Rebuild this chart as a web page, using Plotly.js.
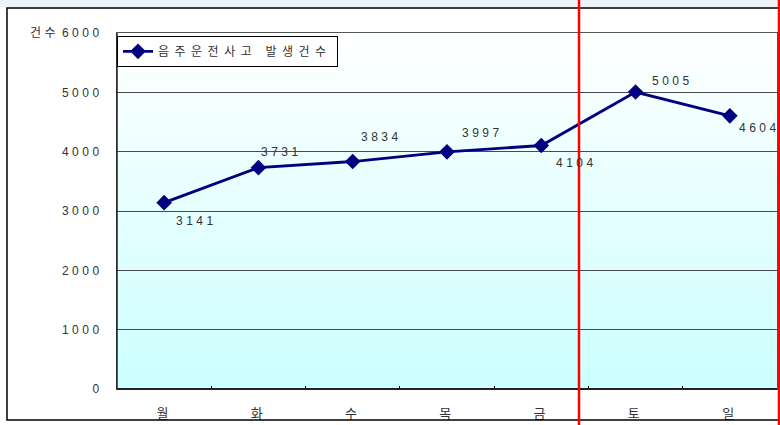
<!DOCTYPE html>
<html>
<head>
<meta charset="utf-8">
<script src="https://cdn.plot.ly/plotly-3.0.1.min.js"></script>
<style>
  html, body { margin: 0; padding: 0; background: #ffffff; }
  #chart { width: 780px; height: 425px; }
  svg text { letter-spacing: 3.5px; }
  svg text.legendtext { letter-spacing: 5.5px; }
</style>
</head>
<body>
<div id="chart"></div>
<script>
// 요일별 음주운전사고 발생건수
const days = ['월', '화', '수', '목', '금', '토', '일'];
const accidents = [3141, 3731, 3834, 3997, 4104, 5005, 4604];
const yTicks = [0, 1000, 2000, 3000, 4000, 5000, 6000];
const seriesName = '음주운전사고 발생건수';
const yTitle = '건수';

// label offsets (px) from each point
const labelShiftX = [32, 23, 29, 35, 35, 37, 30];
const labelShiftY = [-18, 16, 25, 19, -17, 11, -12];

const textColor = '#333333';
const numFont = { family: 'Liberation Sans, Arial, sans-serif', size: 12, color: textColor };
const korFont = { family: 'Noto Sans CJK KR, sans-serif', size: 12, color: textColor };
const dayFont = { family: 'Noto Sans CJK KR, sans-serif', size: 13, color: textColor };

// vertical white-to-cyan background of the plot area
const gradSvg =
  '<svg xmlns="http://www.w3.org/2000/svg" width="10" height="100" preserveAspectRatio="none">' +
  '<defs><linearGradient id="g" x1="0" y1="0" x2="0" y2="1">' +
  '<stop offset="0" stop-color="#ffffff"/><stop offset="1" stop-color="#ccffff"/>' +
  '</linearGradient></defs><rect width="10" height="100" fill="url(#g)"/></svg>';
const gradUri = 'data:image/svg+xml;base64,' + btoa(gradSvg);

const trace = {
  type: 'scatter',
  mode: 'lines+markers',
  x: days,
  y: accidents,
  name: seriesName,
  showlegend: true,
  line: { color: '#000080', width: 2.8 },
  marker: { symbol: 'diamond', size: 12, color: '#000080' },
  hoverinfo: 'skip'
};

const valueLabels = accidents.map((v, i) => ({
  x: days[i], y: v, xref: 'x', yref: 'y',
  text: String(v), showarrow: false,
  xshift: labelShiftX[i], yshift: labelShiftY[i],
  font: numFont
}));

const layout = {
  width: 780, height: 425,
  margin: { l: 117, r: 3, t: 33, b: 36 },
  paper_bgcolor: '#ffffff',
  plot_bgcolor: 'rgba(0,0,0,0)',
  showlegend: true,
  legend: {
    x: 0, y: 0.992, xanchor: 'left', yanchor: 'top',
    bgcolor: '#ffffff', bordercolor: '#000000', borderwidth: 1,
    font: korFont,
    tracegroupgap: 0
  },
  xaxis: {
    type: 'category',
    range: [-0.5, 6.5],
    tickson: 'boundaries',
    ticks: 'inside', ticklen: 3, tickcolor: '#000000',
    showgrid: false,
    showline: true, linecolor: '#555555', linewidth: 1, mirror: true,
    tickfont: dayFont,
    ticklabelstandoff: 12,
    fixedrange: true
  },
  yaxis: {
    range: [0, 6000],
    tickvals: yTicks,
    ticktext: yTicks.map(String),
    ticks: '', showgrid: true, gridcolor: '#4a4a4a', gridwidth: 1,
    zeroline: false,
    showline: true, linecolor: '#555555', linewidth: 1, mirror: true,
    tickfont: numFont,
    ticklabelstandoff: 11,
    fixedrange: true
  },
  images: [{
    source: gradUri, xref: 'paper', yref: 'paper',
    x: 0, y: 1, sizex: 1, sizey: 1, sizing: 'stretch',
    xanchor: 'left', yanchor: 'top', layer: 'below'
  }],
  shapes: [
    // thin strip above the frame
    { type: 'rect', xref: 'paper', yref: 'paper', x0: -0.2, x1: 1.1, y0: 1.072, y1: 1.2,
      line: { width: 0 }, fillcolor: '#eef3f7', layer: 'below' },
    // outer frame
    { type: 'rect', xref: 'paper', yref: 'paper', x0: -0.1667, x1: 1.02, y0: -0.087, y1: 1.070,
      line: { color: '#000000', width: 1.5 }, fillcolor: 'rgba(0,0,0,0)' },
    // bottom axis line
    { type: 'line', xref: 'paper', yref: 'paper', x0: 0, x1: 1, y0: 0, y1: 0,
      line: { color: '#222222', width: 2 } },
    // left axis line
    { type: 'line', xref: 'paper', yref: 'paper', x0: 0, x1: 0, y0: 0, y1: 1,
      line: { color: '#222222', width: 1.5 } },
    // red markers separating weekend
    { type: 'line', xref: 'paper', yref: 'paper', x0: 0.7, x1: 0.7, y0: -0.2, y1: 1.2,
      line: { color: '#ff0000', width: 2.5 } },
    { type: 'line', xref: 'paper', yref: 'paper', x0: 1.003, x1: 1.003, y0: -0.2, y1: 1.2,
      line: { color: '#ff0000', width: 2.5 } }
  ],
  annotations: valueLabels.concat([{
    xref: 'paper', yref: 'paper', x: -0.1348, y: 1.003,
    xanchor: 'left', yanchor: 'middle',
    text: yTitle, showarrow: false, font: korFont
  }])
};

Plotly.newPlot('chart', [trace], layout, { staticPlot: true, displayModeBar: false });
</script>
</body>
</html>
